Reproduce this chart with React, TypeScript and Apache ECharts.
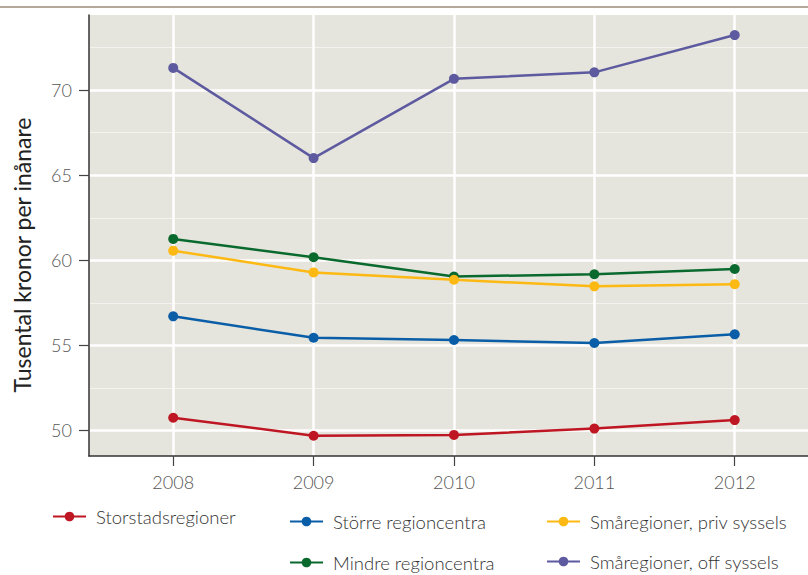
import React, { useEffect, useRef } from "react";
import * as echarts from "echarts";

const years = [2008, 2009, 2010, 2011, 2012];
const yTicks = [50, 55, 60, 65, 70];

const storstad = [50.75, 49.69, 49.74, 50.11, 50.61];
const storre = [56.71, 55.45, 55.32, 55.14, 55.65];
const mindre = [61.26, 60.18, 59.05, 59.18, 59.49];
const smaPriv = [60.57, 59.29, 58.86, 58.47, 58.6];
const smaOff = [71.31, 66.01, 70.67, 71.05, 73.24];

const seriesNames = [
  "Storstadsregioner",
  "Större regioncentra",
  "Mindre regioncentra",
  "Småregioner, priv syssels",
  "Småregioner, off syssels",
];
const seriesColors = ["#be1622", "#0a5ea8", "#0a6a2e", "#fdb913", "#5d5a9f"];
const seriesValues = [storstad, storre, mindre, smaPriv, smaOff];

const FONT = "Lato, 'Open Sans', sans-serif";

export default function App() {
  const ref = useRef<HTMLDivElement>(null);
  useEffect(() => {
    if (!ref.current) return;
    const chart = echarts.init(ref.current, undefined, { renderer: "svg" });
    const legendPos: Record<string, [number, number]> = {
      "Storstadsregioner": [52, 518],
      "Större regioncentra": [289, 523],
      "Mindre regioncentra": [289, 564],
      "Småregioner, priv syssels": [546, 523],
      "Småregioner, off syssels": [546, 563],
    };
    const option: any = {
      animation: false,
      backgroundColor: "#ffffff",
      grid: {
        left: 89,
        top: 15,
        right: 0,
        bottom: 119,
        show: true,
        backgroundColor: "#e5e4dd",
        borderWidth: 0,
      },
      xAxis: {
        type: "value",
        min: 2007.4,
        max: 2012.522,
        splitNumber: 5,
        axisLine: { show: true, onZero: false, lineStyle: { color: "#333333", width: 1.5 } },
        axisTick: {
          show: true,
          length: 10,
          customValues: years,
          lineStyle: { color: "#444444", width: 1.2 },
        },
        axisLabel: {
          customValues: years,
          margin: 17,
          fontSize: 18,
          fontFamily: FONT,
          fontWeight: 300,
          color: "#555555",
          formatter: (v: number) => String(Math.round(v)),
        },
        splitLine: { show: true, lineStyle: { color: "#ffffff", width: 2.5 } },
      },
      yAxis: {
        type: "value",
        min: 48.5,
        max: 74.42,
        splitNumber: 5,
        axisLine: { show: true, lineStyle: { color: "#333333", width: 1.5 } },
        axisTick: {
          show: true,
          length: 10,
          customValues: yTicks,
          lineStyle: { color: "#444444", width: 1.2 },
        },
        axisLabel: {
          customValues: yTicks,
          margin: 17,
          fontSize: 18,
          fontFamily: FONT,
          fontWeight: 300,
          color: "#555555",
        },
        splitLine: { show: true, lineStyle: { color: "#ffffff", width: 2.5 } },
        minorTick: { show: false, splitNumber: 2 },
        minorSplitLine: { show: true, lineStyle: { color: "rgba(255,255,255,0.55)", width: 1 } },
      },
      legend: seriesNames.map((n) => ({
        data: [n],
        left: legendPos[n][0],
        top: legendPos[n][1] - 11,
        padding: 0,
        itemWidth: 33,
        itemHeight: 12,
        textStyle: {
          fontSize: 18.5,
          fontFamily: FONT,
          fontWeight: 300,
          color: "#333333",
          padding: [0, 0, 0, 5],
        },
      })),
      graphic: [
        {
          type: "line",
          shape: { x1: 0, y1: 7, x2: 808, y2: 7 },
          style: { stroke: "#9b8b7a", lineWidth: 1.5 },
        },
        {
          type: "text",
          x: 22,
          y: 255,
          rotation: Math.PI / 2,
          style: {
            text: "Tusental kronor per inånare",
            fontSize: 23,
            fontFamily: FONT,
            fill: "#222222",
            align: "center",
            verticalAlign: "middle",
          },
        },
      ],
      series: seriesNames.map((n, i) => ({
        name: n,
        type: "line",
        data: years.map((y, j) => [y, seriesValues[i][j]]),
        symbol: "circle",
        symbolSize: 10,
        showAllSymbol: true,
        itemStyle: { color: seriesColors[i] },
        lineStyle: { color: seriesColors[i], width: 2.5 },
        z: i === 3 ? 3 : 2,
      })),
    };
    chart.setOption(option);
    return () => chart.dispose();
  }, []);
  return (
    <div
      ref={ref}
      style={{ position: "fixed", left: 0, top: 0, width: 808, height: 575 }}
    />
  );
}
